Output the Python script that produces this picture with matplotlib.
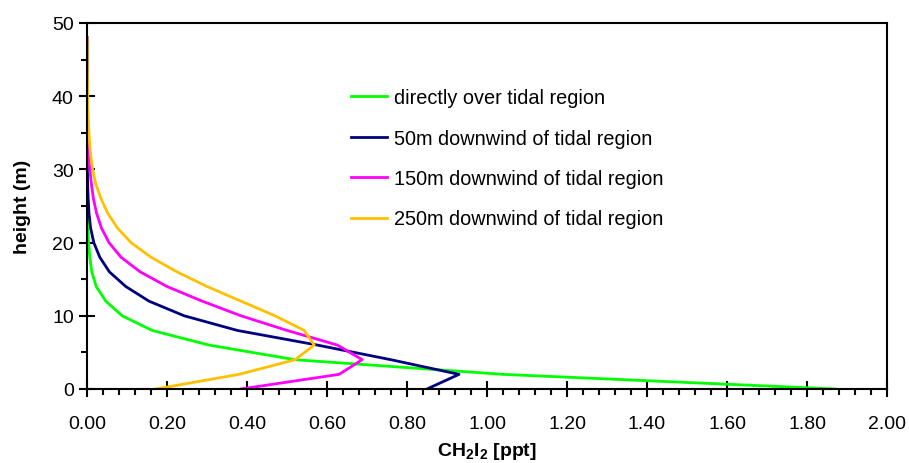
import matplotlib
matplotlib.use("Agg")
import matplotlib.pyplot as plt
from matplotlib.ticker import MultipleLocator, FormatStrFormatter

plt.rcParams['font.family'] = ['Liberation Sans', 'DejaVu Sans']
plt.rcParams['mathtext.fontset'] = 'custom'
plt.rcParams['mathtext.rm'] = 'Liberation Sans'
plt.rcParams['mathtext.bf'] = 'Liberation Sans:bold'

heights = [0, 2, 4, 6, 8, 10, 12, 14, 16, 18, 20, 22, 24, 26, 28, 30, 32, 34,
           36, 38, 40, 42, 44, 46, 48]

direct = [1.87, 1.04, 0.52, 0.305, 0.163, 0.088, 0.047, 0.023, 0.012, 0.007,
          0.004, 0.002, 0.001, 0.001, 0.0005, 0.0003, 0.0002, 0.0001, 0, 0, 0,
          0, 0, 0, 0]
down50 = [0.85, 0.93, 0.76, 0.576, 0.376, 0.243, 0.155, 0.097, 0.056, 0.032,
          0.017, 0.009, 0.005, 0.003, 0.0015, 0.001, 0.0005, 0.0003, 0.0002,
          0.0001, 0, 0, 0, 0, 0]
down150 = [0.385, 0.63, 0.688, 0.626, 0.50, 0.385, 0.288, 0.20, 0.133, 0.085,
           0.055, 0.036, 0.024, 0.016, 0.011, 0.007, 0.004, 0.003, 0.002,
           0.001, 0.0005, 0.0003, 0.0002, 0.0001, 0]
down250 = [0.172, 0.38, 0.52, 0.568, 0.543, 0.47, 0.385, 0.30, 0.225, 0.16,
           0.11, 0.076, 0.052, 0.035, 0.022, 0.014, 0.009, 0.006, 0.004,
           0.0025, 0.0015, 0.001, 0.0005, 0.0003, 0.0001]

labels = ["directly over tidal region", "50m downwind of tidal region",
          "150m downwind of tidal region", "250m downwind of tidal region"]
colors = ["#00FF00", "#000080", "#FF00FF", "#FFC000"]
series = [direct, down50, down150, down250]

fig = plt.figure(figsize=(9.09, 4.64), dpi=100)
ax = fig.add_axes([87/909, 1 - 390/464, 800/909, 366/464])

for vals, lab, col in zip(series, labels, colors):
    ax.plot(vals, heights, color=col, lw=2.0, label=lab)

ax.set_xlim(0, 2.0)
ax.set_ylim(0, 50)
ax.xaxis.set_major_locator(MultipleLocator(0.2))
ax.xaxis.set_minor_locator(MultipleLocator(0.04))
ax.xaxis.set_major_formatter(FormatStrFormatter('%.2f'))
ax.yaxis.set_major_locator(MultipleLocator(10))
ax.yaxis.set_minor_locator(MultipleLocator(5))

ax.tick_params(which='major', direction='inout', length=11, width=1.5,
               labelsize=14, colors='black')
ax.tick_params(axis='x', which='major', pad=13)
ax.tick_params(axis='y', which='major', pad=4)
ax.tick_params(which='minor', direction='out', length=4.5, width=1.5)
for sp in ax.spines.values():
    sp.set_linewidth(1.5)
    sp.set_color('black')

ax.set_xlabel(r'CH$_\mathbf{2}$I$_\mathbf{2}$ [ppt]', fontsize=14,
              fontweight='bold', labelpad=6)
ax.set_ylabel('height (m)', fontsize=14, fontweight='bold', labelpad=15)

ax.legend(loc='upper left', bbox_to_anchor=(0.330, 0.822), frameon=False,
          fontsize=14.3, handlelength=1.8, handletextpad=0.35,
          labelspacing=1.08, borderpad=0, borderaxespad=0)

fig.savefig('out.png', dpi=100)
